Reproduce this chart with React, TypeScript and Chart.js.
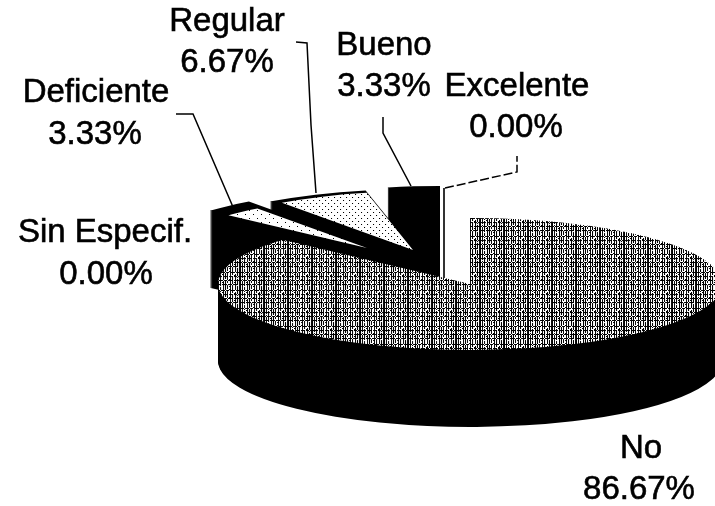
import React, { useEffect, useRef } from "react";
import { Chart, registerables } from "chart.js";

Chart.register(...registerables);

const categories = ["No", "Sin Especif.", "Deficiente", "Regular", "Bueno", "Excelente"];
const percentages = [86.67, 0, 3.33, 6.67, 3.33, 0];

const FONT = '33px "Liberation Sans", Arial, sans-serif';
const RX = 252;
const RY = 66;
const DEPTH = 77;

// Wedge placement in picture space: body (black solid) and optional inset top face.
const placements: Record<string, any> = {
  No: { cx: 470, cy: 284 },
  Deficiente: { cx: 397, cy: 255, faceCx: 367, faceCy: 248, faceScale: 0.74 },
  Regular: { cx: 418, cy: 255, faceCx: 413, faceCy: 250, faceScale: 0.885 },
  Bueno: { cx: 440, cy: 252 },
};
const drawOrder = ["Bueno", "Excelente", "Regular", "Deficiente", "No"];

const labelPos: Record<string, any> = {
  No: { nx: 641, ny: 449, vx: 639, vy: 490 },
  "Sin Especif.": { nx: 105, ny: 233, vx: 106, vy: 275 },
  Deficiente: { nx: 96, ny: 93, vx: 95, vy: 135 },
  Regular: { nx: 227, ny: 22, vx: 227, vy: 63 },
  Bueno: { nx: 384, ny: 46, vx: 384, vy: 87 },
  Excelente: { nx: 517, ny: 87, vx: 516, vy: 128 },
};

const leaders: { pts: number[][]; dash?: number[] }[] = [
  { pts: [[176, 114], [193, 114], [233, 207]] },
  { pts: [[296, 42], [307, 43], [311, 125], [316, 193]] },
  { pts: [[383, 117], [383, 133], [411, 186]] },
  { pts: [[445, 188], [517, 172], [517, 156]], dash: [9, 3] },
];

function makePattern(rows: string[]) {
  const c = document.createElement("canvas");
  c.height = rows.length;
  c.width = rows[0].length;
  const x = c.getContext("2d")!;
  x.fillStyle = "#fff";
  x.fillRect(0, 0, c.width, c.height);
  x.fillStyle = "#000";
  rows.forEach((r, j) => {
    for (let i = 0; i < r.length; i++) if (r[i] === "#") x.fillRect(i, j, 1, 1);
  });
  return x.createPattern(c, "repeat")!;
}

const hatchRows = [
  "#.#.#..#.#.#..#.#..#.#.#",
  "#.#.#..#.#...##.#..#.#.#",
  "####.####.###.#####.####",
  "#.#.#..#.#.#..#.#....#.#",
  "#.#...##.#.#..#.#..#.#.#",
  "#.#.#..#.#.#..#...##.#.#",
  "######.#####.####.###.##",
  "#.#.#..#.#.#..#.#..#.#.#",
  "#...#..#.#.#..#.#..#...#",
  "#.#.#..#...#.##.#..#.#.#",
  "##.####.###.#####.######",
  "#.#.#..#.#.#..#.#..#.#.#",
  "#.#.#.##.#.#..#.#.##.#.#",
  "#.#.#..#.#....#.#..#.#.#",
  "#####.#####.####.#####.#",
  "#.#.#..#.#.#..#.#..#...#",
  "#.#....#.#.#.##.#..#.#.#",
  "#.#.#..#.#.#..#.#..#.#.#",
];
const stippleRows = [
  "......",
  "......",
  ".#....",
  "......",
  "......",
  "....#.",
];
const sparseRows = [
  "........",
  "........",
  ".#......",
  "........",
  "........",
  "........",
  ".....#..",
  "........",
];

const depthPlugin = {
  id: "depthPie",
  beforeDatasetsDraw(chart: any) {
    const { ctx } = chart;
    const arcs = chart.getDatasetMeta(0).data;

    const place = (arc: any, cx: number, cy: number, s: number) => {
      ctx.translate(cx, cy);
      ctx.scale((RX * s) / arc.outerRadius, (RY * s) / arc.outerRadius);
      ctx.translate(-arc.x, -arc.y);
    };
    const drawArc = (arc: any, cx: number, cy: number, s: number, fill: any) => {
      const saved = arc.options;
      ctx.save();
      place(arc, cx, cy, s);
      if (fill instanceof CanvasPattern) {
        fill.setTransform(ctx.getTransform().inverse());
      }
      arc.options = { ...saved, backgroundColor: fill, borderWidth: 0 };
      arc.draw(ctx);
      arc.options = saved;
      ctx.restore();
    };

    for (const name of drawOrder) {
      const i = categories.indexOf(name);
      const arc = arcs[i];
      if (percentages[i] === 0) {
        // A zero-width wedge shows as its single radial edge.
        const a = arc.startAngle;
        const x = 444 + RX * Math.cos(a);
        const y = 254 + RY * Math.sin(a);
        ctx.save();
        ctx.strokeStyle = "#333";
        ctx.lineWidth = 2;
        ctx.beginPath();
        ctx.moveTo(x, y);
        ctx.lineTo(x, y + DEPTH + RY);
        ctx.stroke();
        ctx.restore();
        continue;
      }
      const p = placements[name];
      if (!p) continue;
      for (let d = DEPTH; d >= 1; d--) drawArc(arc, p.cx, p.cy + d, 1, "#000");
      drawArc(arc, p.cx, p.cy, 1, p.faceCx ? "#000" : arc.options.backgroundColor);
      if (p.faceCx) drawArc(arc, p.faceCx, p.faceCy, p.faceScale, arc.options.backgroundColor);
    }
    return false;
  },
  afterDraw(chart: any) {
    const { ctx } = chart;
    ctx.save();
    ctx.strokeStyle = "#000";
    ctx.lineWidth = 1.5;
    for (const l of leaders) {
      ctx.setLineDash(l.dash || []);
      ctx.beginPath();
      l.pts.forEach((q, k) => (k ? ctx.lineTo(q[0], q[1]) : ctx.moveTo(q[0], q[1])));
      ctx.stroke();
    }
    ctx.setLineDash([]);
    ctx.font = FONT;
    ctx.fillStyle = "#000";
    ctx.lineWidth = 0.6;
    ctx.textAlign = "center";
    ctx.textBaseline = "middle";
    categories.forEach((name, i) => {
      const p = labelPos[name];
      const v = percentages[i].toFixed(2) + "%";
      ctx.fillText(name, p.nx, p.ny);
      ctx.strokeText(name, p.nx, p.ny);
      ctx.fillText(v, p.vx, p.vy);
      ctx.strokeText(v, p.vx, p.vy);
    });
    ctx.restore();
  },
};

export default function App() {
  const ref = useRef<HTMLCanvasElement>(null);
  useEffect(() => {
    document.body.style.margin = "0";
    document.body.style.background = "#fff";
    const hatch = makePattern(hatchRows);
    const stipple = makePattern(stippleRows);
    const sparse = makePattern(sparseRows);
    const chart = new Chart(ref.current!, {
      type: "pie",
      data: {
        labels: categories,
        datasets: [
          {
            data: percentages,
            backgroundColor: [hatch, "#fff", sparse, stipple, "#000", "#fff"],
            borderWidth: 0,
          },
        ],
      },
      options: {
        animation: false,
        responsive: false,
        layout: { padding: 0 },
        plugins: { legend: { display: false }, tooltip: { enabled: false }, title: { display: false } },
      },
      plugins: [depthPlugin],
    } as any);
    return () => chart.destroy();
  }, []);
  return <canvas ref={ref} width={715} height={506} style={{ display: "block" }} />;
}
